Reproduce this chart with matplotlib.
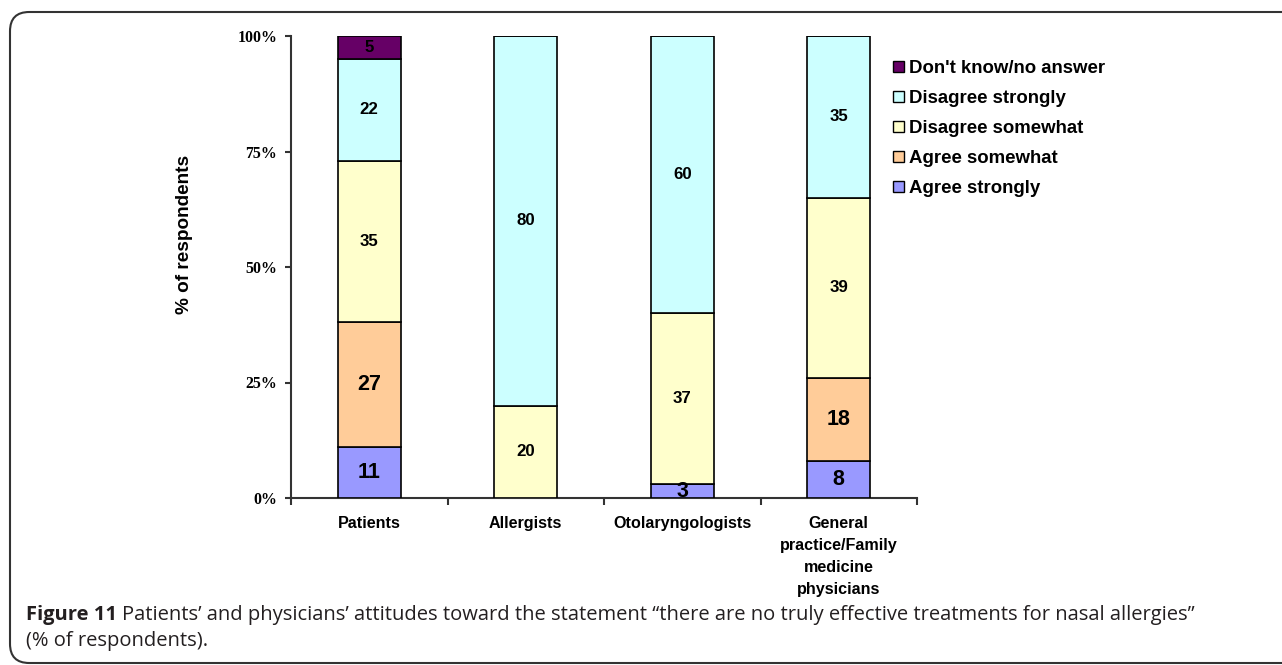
import matplotlib
matplotlib.use("Agg")
import matplotlib.pyplot as plt
from matplotlib.patches import FancyBboxPatch
import numpy as np

categories = ["Patients", "Allergists", "Otolaryngologists",
              "General\npractice/Family\nmedicine\nphysicians"]
series_names = ["Agree strongly", "Agree somewhat", "Disagree somewhat",
                "Disagree strongly", "Don't know/no answer"]
agree_strongly = [11, 0, 3, 8]
agree_somewhat = [27, 0, 0, 18]
disagree_somewhat = [35, 20, 37, 39]
disagree_strongly = [22, 80, 60, 35]
dont_know = [5, 0, 0, 0]
series_values = [agree_strongly, agree_somewhat, disagree_somewhat,
                 disagree_strongly, dont_know]
colors = ["#9999FF", "#FFCC99", "#FFFFCC", "#CCFFFF", "#660066"]
label_sizes = [15.5, 15.5, 12.2, 12.2, 12.2]
ytick_vals = [0, 25, 50, 75, 100]
ytick_labels = ["0%", "25%", "50%", "75%", "100%"]

W, H = 1282, 665
fig = plt.figure(figsize=(W / 100, H / 100), dpi=100)

def fx(x):
    return x / W

def fy(y):
    return 1 - y / H

# axes placement
ax_l, ax_r, ax_t, ax_b = 291, 917, 36, 498
ax = fig.add_axes([fx(ax_l), fy(ax_b), fx(ax_r) - fx(ax_l), fy(ax_t) - fy(ax_b)])

x = np.arange(len(categories))
bw = 0.40
bottom = np.zeros(len(categories))
for name, vals, col, fs in zip(series_names, series_values, colors, label_sizes):
    vals = np.array(vals, dtype=float)
    ax.bar(x, vals, bw, bottom=bottom, color=col, edgecolor="black",
           linewidth=1.2, label=name, zorder=3)
    for xi, v, b in zip(x, vals, bottom):
        if v > 0:
            ax.text(xi, b + v / 2, f"{int(v)}", ha="center", va="center",
                    fontsize=fs, fontweight="bold", family="Liberation Sans",
                    color="black", zorder=4)
    bottom += vals

ax.set_xlim(-0.5, len(categories) - 0.5)
ax.set_ylim(0, 100)

for s in ["top", "right"]:
    ax.spines[s].set_visible(False)
for s in ["left", "bottom"]:
    ax.spines[s].set_color("#333333")
    ax.spines[s].set_linewidth(1.5)

ax.set_yticks(ytick_vals)
ax.set_yticklabels(ytick_labels, family="Liberation Serif", fontweight="bold", fontsize=11.4)
ax.tick_params(axis="y", length=4, width=1.5, color="#333333", pad=6)

ax.set_xticks(x)
ax.set_xticklabels(categories, family="Liberation Sans", fontweight="bold",
                   fontsize=11.6, linespacing=1.58)
ax.tick_params(axis="x", which="major", length=0, pad=13)
ax.set_xticks(np.arange(-0.5, len(categories), 1.0), minor=True)
ax.tick_params(axis="x", which="minor", length=5, width=1.5, color="#333333")

ax.set_ylabel("% of respondents", family="Liberation Sans", fontweight="bold", fontsize=13.7)
ax.yaxis.set_label_coords((193 - ax_l) / (ax_r - ax_l), (ax_b - 234) / (ax_b - ax_t))

# legend (reverse order like reference)
h, l = ax.get_legend_handles_labels()
leg = fig.legend(h[::-1], l[::-1], loc="upper left",
                 bbox_to_anchor=(fx(884), fy(51)), bbox_transform=fig.transFigure,
                 frameon=False, borderpad=0, handlelength=0.55, handleheight=0.55,
                 handletextpad=0.3, labelspacing=0.70,
                 prop={"family": "Liberation Sans", "weight": "bold", "size": 13.4})
for p in leg.get_patches():
    p.set_linewidth(1.0)

# outer rounded border
border = FancyBboxPatch((fx(10), fy(663)), fx(1320) - fx(10), fy(12) - fy(663),
                        boxstyle="round,pad=0,rounding_size=0.015",
                        transform=fig.transFigure, fill=False,
                        edgecolor="#333333", linewidth=1.5, clip_on=False,
                        mutation_aspect=W / H)
fig.patches.append(border)

# caption
cap_col = "#231f20"
cap_fs = 14.5
t1 = fig.text(fx(26), fy(615), "Figure 11", family="Open Sans", fontweight="bold",
              fontsize=cap_fs, color=cap_col, va="center", ha="left")
fig.canvas.draw()
r = fig.canvas.get_renderer()
bb = t1.get_window_extent(r)
x2 = bb.x1 + 5
fig.text(x2 / W, fy(615),
         "Patients\u2019 and physicians\u2019 attitudes toward the statement \u201cthere are no truly effective treatments for nasal allergies\u201d",
         family="Open Sans", fontsize=cap_fs, color=cap_col, va="center", ha="left")
fig.text(fx(26), fy(641), "(% of respondents).", family="Open Sans",
         fontsize=cap_fs, color=cap_col, va="center", ha="left")

fig.savefig("out.png", dpi=100)
